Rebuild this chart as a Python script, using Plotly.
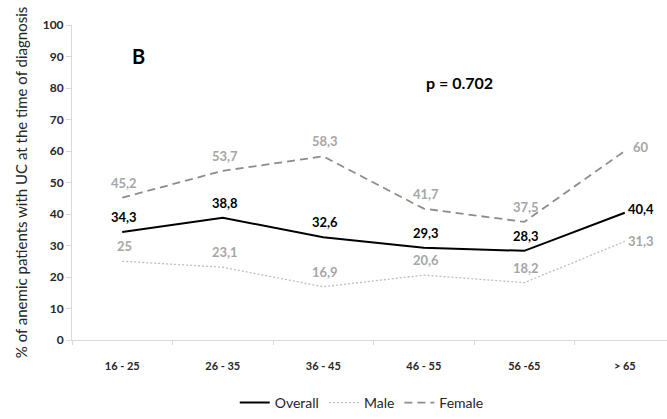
import plotly.graph_objects as go

# Age groups and anemia rates (%) at UC diagnosis
age_groups = ["16 - 25", "26 - 35", "36 - 45", "46 - 55", "56 -65", "> 65"]
overall = [34.3, 38.8, 32.6, 29.3, 28.3, 40.4]
male = [25, 23.1, 16.9, 20.6, 18.2, 31.3]
female = [45.2, 53.7, 58.3, 41.7, 37.5, 60]


def fmt(v):
    return ("%g" % v).replace(".", ",")


FONT = "Lato, Open Sans, sans-serif"
LABEL_GRAY = "#a6a6a6"
TEXT_DARK = "#262626"

series = [
    ("Overall", overall, dict(color="#000000", width=2.0), "#000000"),
    ("Male", male, dict(color="#bdbdbd", width=1.3, dash="2px,2px"), LABEL_GRAY),
    ("Female", female, dict(color="#8c8c8c", width=1.8, dash="8px,5px"), LABEL_GRAY),
]

fig = go.Figure()
for name, values, line, label_color in series:
    fig.add_trace(go.Scatter(x=age_groups, y=values, name=name, mode="lines", line=line))
    # value labels sit above each point; the last group's labels go to its right
    for i, (cat, v) in enumerate(zip(age_groups, values)):
        last = i == len(values) - 1
        if last:
            xshift, yshift = 16, (4 if name != "Male" else 0)
        else:
            xshift, yshift = 2, 15
        fig.add_annotation(
            x=cat, y=v, text="<b>%s</b>" % fmt(v), showarrow=False,
            xshift=xshift, yshift=yshift,
            font=dict(family=FONT, size=13, color=label_color),
        )

fig.add_annotation(x=0.097, y=0.945, xref="paper", yref="paper", text="<b>B</b>",
                   showarrow=False, font=dict(family=FONT, size=20, color="#000000"))
fig.add_annotation(x=0.711, y=0.855, xref="paper", yref="paper", text="<b>p = 0.702</b>",
                   showarrow=False, font=dict(family=FONT, size=16, color="#000000"))

fig.update_layout(
    width=667, height=419,
    margin=dict(l=72, r=0, t=25, b=68),
    paper_bgcolor="white", plot_bgcolor="white",
    font=dict(family=FONT, color=TEXT_DARK),
    showlegend=True,
    legend=dict(orientation="h", x=0.487, xanchor="center", y=-0.2, yanchor="middle",
                font=dict(family=FONT, size=14, color=TEXT_DARK),
                itemwidth=30, tracegroupgap=0),
    xaxis=dict(
        type="category", range=[-0.5, 5.42], showgrid=False, showline=True,
        linecolor="#d9d9d9", linewidth=1,
        ticks="outside", tickson="boundaries", ticklen=4, tickcolor="#d9d9d9",
        tickfont=dict(family=FONT, size=11, color=TEXT_DARK, weight="bold"),
        ticklabelstandoff=16, zeroline=False,
    ),
    yaxis=dict(
        range=[0, 100], dtick=10, showgrid=False, showline=True, linecolor="#d9d9d9",
        linewidth=1, ticks="outside", ticklen=5, tickcolor="#d9d9d9", zeroline=False,
        tickfont=dict(family=FONT, size=12, color=TEXT_DARK, weight="bold"),
        title=dict(text="% of anemic patients with UC at the time of diagnosis",
                   font=dict(family=FONT, size=15, color=TEXT_DARK), standoff=11),
    ),
)

fig.write_html("out.html")
